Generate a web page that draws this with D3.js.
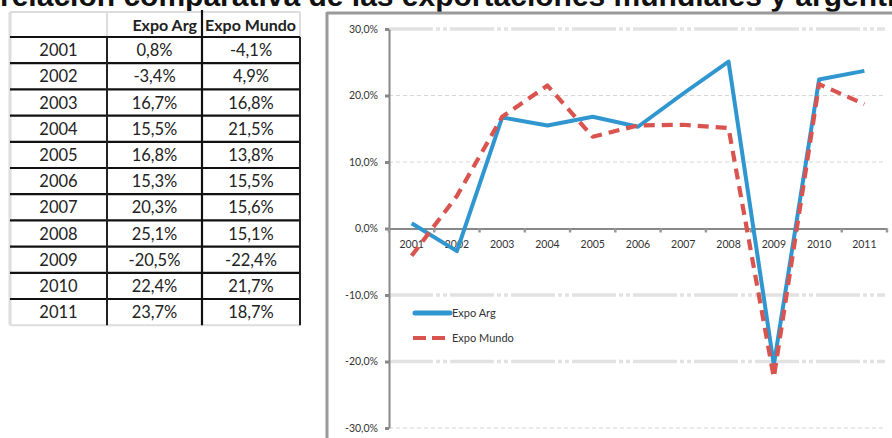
<!DOCTYPE html>
<html lang="es">
<head>
  <meta charset="UTF-8">
  <script src="https://cdn.jsdelivr.net/npm/d3@7"></script>
  <style>
    body { margin: 0; background: #fff; overflow: hidden; }
    svg { display: block; }
    .title { font-family: "Liberation Sans", Arial, sans-serif; font-weight: bold; font-size: 30px; fill: #111; }
    .tbl { font-family: Lato, "Open Sans", sans-serif; font-size: 16.5px; fill: #222; }
    .tblh { font-family: Lato, "Open Sans", sans-serif; font-size: 16px; font-weight: bold; fill: #222; }
    .axis text { font-family: Lato, "Open Sans", sans-serif; font-size: 10.5px; fill: #333; }
    .legend text { font-family: Lato, "Open Sans", sans-serif; font-size: 11px; fill: #333; }
  </style>
</head>
<body>
<script>
  /* ---------------- data ---------------- */
  const years = ["2001", "2002", "2003", "2004", "2005", "2006", "2007", "2008", "2009", "2010", "2011"];
  const expoArg = [0.8, -3.4, 16.7, 15.5, 16.8, 15.3, 20.3, 25.1, -20.5, 22.4, 23.7];
  const expoMundo = [-4.1, 4.9, 16.8, 21.5, 13.8, 15.5, 15.6, 15.1, -22.4, 21.7, 18.7];
  const seriesNames = ["Expo Arg", "Expo Mundo"];
  const yTicks = [-30, -20, -10, 0, 10, 20, 30];
  const titleText = "relación comparativa de las exportaciones mundiales y argentinas";

  /* ---------------- setup ---------------- */
  const W = 892, H = 438;
  const svg = d3.select("body").append("svg").attr("width", W).attr("height", H);
  const pct = v => v.toFixed(1).replace(".", ",") + "%";

  // title (cut at the top, like the screenshot)
  svg.append("text").attr("class", "title")
    .attr("x", 0).attr("y", 6)
    .text(titleText);

  /* ---------------- table ---------------- */
  const colX = [10, 107, 202, 300];
  const headTop = 12, headBottom = 37, rowH = 26.2;
  const tbl = svg.append("g");
  const rowsBottom = headBottom + rowH * years.length;

  // light excel grid
  tbl.append("line").attr("x1", colX[0]).attr("x2", colX[3]).attr("y1", headTop).attr("y2", headTop)
    .attr("stroke", "#ddd").attr("stroke-width", 2);
  tbl.append("line").attr("x1", colX[0]).attr("x2", colX[0]).attr("y1", headTop).attr("y2", rowsBottom)
    .attr("stroke", "#ddd").attr("stroke-width", 3);
  tbl.append("line").attr("x1", colX[0]).attr("x2", colX[3]).attr("y1", rowsBottom).attr("y2", rowsBottom)
    .attr("stroke", "#ddd").attr("stroke-width", 2);
  [colX[1], colX[3]].forEach(x => tbl.append("line").attr("x1", x).attr("x2", x)
    .attr("y1", headTop).attr("y2", headBottom).attr("stroke", "#ddd").attr("stroke-width", 2));

  // black borders
  d3.range(years.length).forEach(i => {
    const y = headBottom + i * rowH;
    tbl.append("line").attr("x1", colX[0]).attr("x2", colX[3]).attr("y1", y).attr("y2", y)
      .attr("stroke", "#111").attr("stroke-width", 2.2);
  });
  [colX[1], colX[3]].forEach(x => tbl.append("line").attr("x1", x).attr("x2", x)
    .attr("y1", headBottom).attr("y2", rowsBottom).attr("stroke", "#222").attr("stroke-width", 2));
  tbl.append("line").attr("x1", colX[2]).attr("x2", colX[2]).attr("y1", 10).attr("y2", rowsBottom)
    .attr("stroke", "#111").attr("stroke-width", 2.2);

  // header
  svg.append("clipPath").attr("id", "hclip").append("rect")
    .attr("x", 0).attr("y", 0).attr("width", 303).attr("height", 60);
  tbl.append("text").attr("class", "tblh").attr("x", colX[2] - 5).attr("y", 31)
    .attr("text-anchor", "end").text(seriesNames[0]);
  tbl.append("text").attr("class", "tblh").attr("x", colX[2] + 3).attr("y", 31)
    .attr("clip-path", "url(#hclip)").text(seriesNames[1]);

  // body
  years.forEach((yr, i) => {
    const cy = headBottom + i * rowH + rowH / 2 + 6;
    const vals = [yr, pct(expoArg[i]), pct(expoMundo[i])];
    vals.forEach((v, j) => {
      tbl.append("text").attr("class", "tbl")
        .attr("x", (colX[j] + colX[j + 1]) / 2).attr("y", cy)
        .attr("text-anchor", "middle").text(v);
    });
  });

  /* ---------------- chart ---------------- */
  // chart frame
  svg.append("line").attr("x1", 327).attr("x2", W).attr("y1", 13).attr("y2", 13)
    .attr("stroke", "#9a9a9a").attr("stroke-width", 3);
  svg.append("line").attr("x1", 327).attr("x2", 327).attr("y1", 12).attr("y2", H)
    .attr("stroke", "#9a9a9a").attr("stroke-width", 3);

  const x = d3.scaleBand().domain(years).range([389, 887]).padding(0);
  const y = d3.scaleLinear().domain([-30, 30]).range([428, 29]);
  const cx = d => x(d) + x.bandwidth() / 2;

  // gridlines
  const heavy = new Set([30, -10, -20]);
  svg.append("g").selectAll("line").data(yTicks.filter(v => v !== 0)).join("line")
    .attr("x1", 389).attr("x2", 885)
    .attr("y1", d => y(d)).attr("y2", d => y(d))
    .attr("stroke", d => heavy.has(d) ? "#e2e2e2" : "#d6d6d6")
    .attr("stroke-width", d => heavy.has(d) ? 3.5 : 1.2)
    .attr("stroke-dasharray", d => heavy.has(d) ? "44,3,4,3,4,3" : "4,3");

  // y axis
  const yAxis = svg.append("g").attr("class", "axis")
    .attr("transform", "translate(389,0)")
    .call(d3.axisLeft(y).tickValues(yTicks).tickFormat(pct).tickSize(4).tickSizeOuter(0).tickPadding(7));
  yAxis.select(".domain").attr("stroke", "#888").attr("stroke-width", 2);
  yAxis.selectAll(".tick line").attr("stroke", "#888").attr("stroke-width", 3);

  // x axis at 0
  const xAxis = svg.append("g").attr("class", "axis")
    .attr("transform", `translate(0,${y(0)})`)
    .call(d3.axisBottom(x).tickSize(0).tickPadding(12));
  xAxis.select(".domain").attr("stroke", "#888").attr("stroke-width", 2);
  xAxis.append("g").selectAll("line").data(years.concat(["end"])).join("line")
    .attr("x1", (d, i) => 389 + i * x.bandwidth()).attr("x2", (d, i) => 389 + i * x.bandwidth())
    .attr("y1", 0).attr("y2", 4).attr("stroke", "#999").attr("stroke-width", 2.5);

  // lines
  const line = d3.line().x(d => cx(d[0])).y(d => y(d[1]));
  svg.append("path").datum(years.map((yr, i) => [yr, expoArg[i]]))
    .attr("d", line).attr("fill", "none")
    .attr("stroke", "#2f96d0").attr("stroke-width", 4).attr("stroke-linejoin", "round");
  svg.append("path").datum(years.map((yr, i) => [yr, expoMundo[i]]))
    .attr("d", line).attr("fill", "none")
    .attr("stroke", "#d9534f").attr("stroke-width", 4.2).attr("stroke-dasharray", "11,7")
    .attr("stroke-linejoin", "round");

  // legend
  const lg = svg.append("g").attr("class", "legend");
  lg.append("line").attr("x1", 415).attr("x2", 450).attr("y1", 313).attr("y2", 313)
    .attr("stroke", "#2f96d0").attr("stroke-width", 5).attr("stroke-linecap", "round");
  lg.append("text").attr("x", 452).attr("y", 317).text(seriesNames[0]);
  lg.append("line").attr("x1", 413).attr("x2", 448).attr("y1", 338).attr("y2", 338)
    .attr("stroke", "#d9534f").attr("stroke-width", 4).attr("stroke-dasharray", "13,6");
  lg.append("text").attr("x", 452).attr("y", 342).text(seriesNames[1]);
</script>
</body>
</html>
